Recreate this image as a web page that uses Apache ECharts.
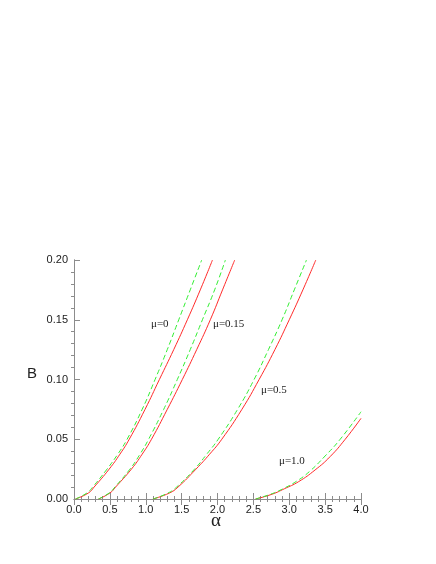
<!DOCTYPE html>
<html>
<head>
<meta charset="utf-8">
<script src="https://cdn.jsdelivr.net/npm/echarts@6/dist/echarts.min.js"></script>
<style>
  html, body { margin: 0; padding: 0; background: #fff; }
  #chart { width: 436px; height: 564px; }
</style>
</head>
<body>
<div id="chart"></div>
<script>
// [alpha, B]
var red_mu0 = [[0.02, 0], [0.20, 0.005], [0.28, 0.01], [0.49, 0.025], [0.64, 0.0375], [0.77, 0.05], [0.99, 0.075],
    [1.19, 0.10], [1.39, 0.125], [1.58, 0.15], [1.76, 0.175], [1.93, 0.20]];
var green_mu0 = [[0.02, 0], [0.18, 0.005], [0.26, 0.01], [0.46, 0.025], [0.61, 0.0375], [0.74, 0.05], [0.95, 0.075],
    [1.13, 0.10], [1.30, 0.125], [1.46, 0.15], [1.62, 0.175], [1.78, 0.20]];
var red_mu015 = [[0.34, 0], [0.50, 0.005], [0.58, 0.01], [0.80, 0.025], [0.95, 0.0375], [1.08, 0.05], [1.30, 0.075],
    [1.51, 0.10], [1.71, 0.125], [1.90, 0.15], [2.07, 0.175], [2.24, 0.20]];
var green_mu015 = [[0.34, 0], [0.49, 0.005], [0.57, 0.01], [0.78, 0.025], [0.92, 0.0375], [1.04, 0.05], [1.25, 0.075],
    [1.44, 0.10], [1.62, 0.125], [1.79, 0.15], [1.96, 0.175], [2.11, 0.20]];
var red_mu05 = [[1.10, 0], [1.33, 0.005], [1.45, 0.01], [1.70, 0.025], [1.89, 0.0375], [2.06, 0.05], [2.34, 0.075],
    [2.58, 0.10], [2.80, 0.125], [3.00, 0.15], [3.19, 0.175], [3.37, 0.20]];
var green_mu05 = [[1.10, 0], [1.31, 0.005], [1.43, 0.01], [1.68, 0.025], [1.85, 0.0375], [2.01, 0.05], [2.28, 0.075],
    [2.51, 0.10], [2.71, 0.125], [2.90, 0.15], [3.07, 0.175], [3.24, 0.20]];
var red_mu1 = [[2.53, 0], [2.76, 0.004], [2.93, 0.0085], [3.13, 0.0145], [3.36, 0.0243], [3.57, 0.0355], [3.78, 0.05], [4.0, 0.0675]];
var green_mu1 = [[2.53, 0], [2.74, 0.004], [2.91, 0.0085], [3.10, 0.0148], [3.28, 0.0229], [3.50, 0.036], [3.71, 0.05], [4.0, 0.073]];

var curveLabels = ['μ=0', 'μ=0.15', 'μ=0.5', 'μ=1.0'];

var RED = '#ff2a2a', GREEN = '#33ee33', AXIS = '#8c8c8c';

function redLine(d) {
    return { type: 'line', data: d, smooth: 0.5, showSymbol: false, symbol: 'none',
        lineStyle: { color: RED, width: 1 }, z: 2 };
}
function greenLine(d) {
    return { type: 'line', data: d, smooth: 0.5, showSymbol: false, symbol: 'none',
        lineStyle: { color: GREEN, width: 1, type: [5, 3] }, z: 3 };
}

var axisCommon = {
    axisLine: { show: true, lineStyle: { color: AXIS, width: 1 } },
    axisTick: { show: true, inside: true, length: 6, lineStyle: { color: AXIS } },
    minorTick: { show: true, splitNumber: 5, length: -3, lineStyle: { color: AXIS } },
    splitLine: { show: false }
};

function muLabel(text, x, y) {
    return { type: 'text', left: x, top: y,
        style: { text: text, font: '11px "Liberation Serif"', fill: '#222' } };
}

var option = {
    backgroundColor: '#fff',
    animation: false,
    grid: { left: 74, right: 75, top: 260, bottom: 65 },
    xAxis: [
        Object.assign({
            type: 'value', min: 0, max: 4, interval: 0.5, position: 'bottom',
            axisLabel: { color: '#222', fontFamily: 'Liberation Sans', fontSize: 11, margin: 5,
                formatter: function (v) { return v.toFixed(1); } }
        }, axisCommon),
        Object.assign({
            type: 'value', min: 0, max: 4, interval: 0.5, position: 'top',
            axisLabel: { show: false }
        }, axisCommon)
    ],
    yAxis: [
        Object.assign({
            type: 'value', min: 0, max: 0.2, interval: 0.05, position: 'left',
            axisLabel: { color: '#222', fontFamily: 'Liberation Sans', fontSize: 11, margin: 6,
                formatter: function (v) { return v.toFixed(2); } }
        }, axisCommon),
        {
            type: 'value', min: 0, max: 0.2, position: 'right',
            axisLine: { show: true, lineStyle: { color: AXIS, width: 1 } },
            axisTick: { show: false }, axisLabel: { show: false }, splitLine: { show: false }
        }
    ],
    graphic: [
        { type: 'text', left: 27, top: 366,
          style: { text: 'B', font: '15px "Liberation Sans"', fill: '#222' } },
        { type: 'text', left: 211, top: 512,
          style: { text: 'α', font: '19px "Liberation Serif"', fill: '#222' } },
        muLabel(curveLabels[0], 151, 319),
        muLabel(curveLabels[1], 213, 319),
        muLabel(curveLabels[2], 261, 385),
        muLabel(curveLabels[3], 279, 456)
    ],
    series: [
        redLine(red_mu0), greenLine(green_mu0),
        redLine(red_mu015), greenLine(green_mu015),
        redLine(red_mu05), greenLine(green_mu05),
        redLine(red_mu1), greenLine(green_mu1)
    ]
};

var myChart = echarts.init(document.getElementById('chart'));
myChart.setOption(option);
</script>
</body>
</html>
